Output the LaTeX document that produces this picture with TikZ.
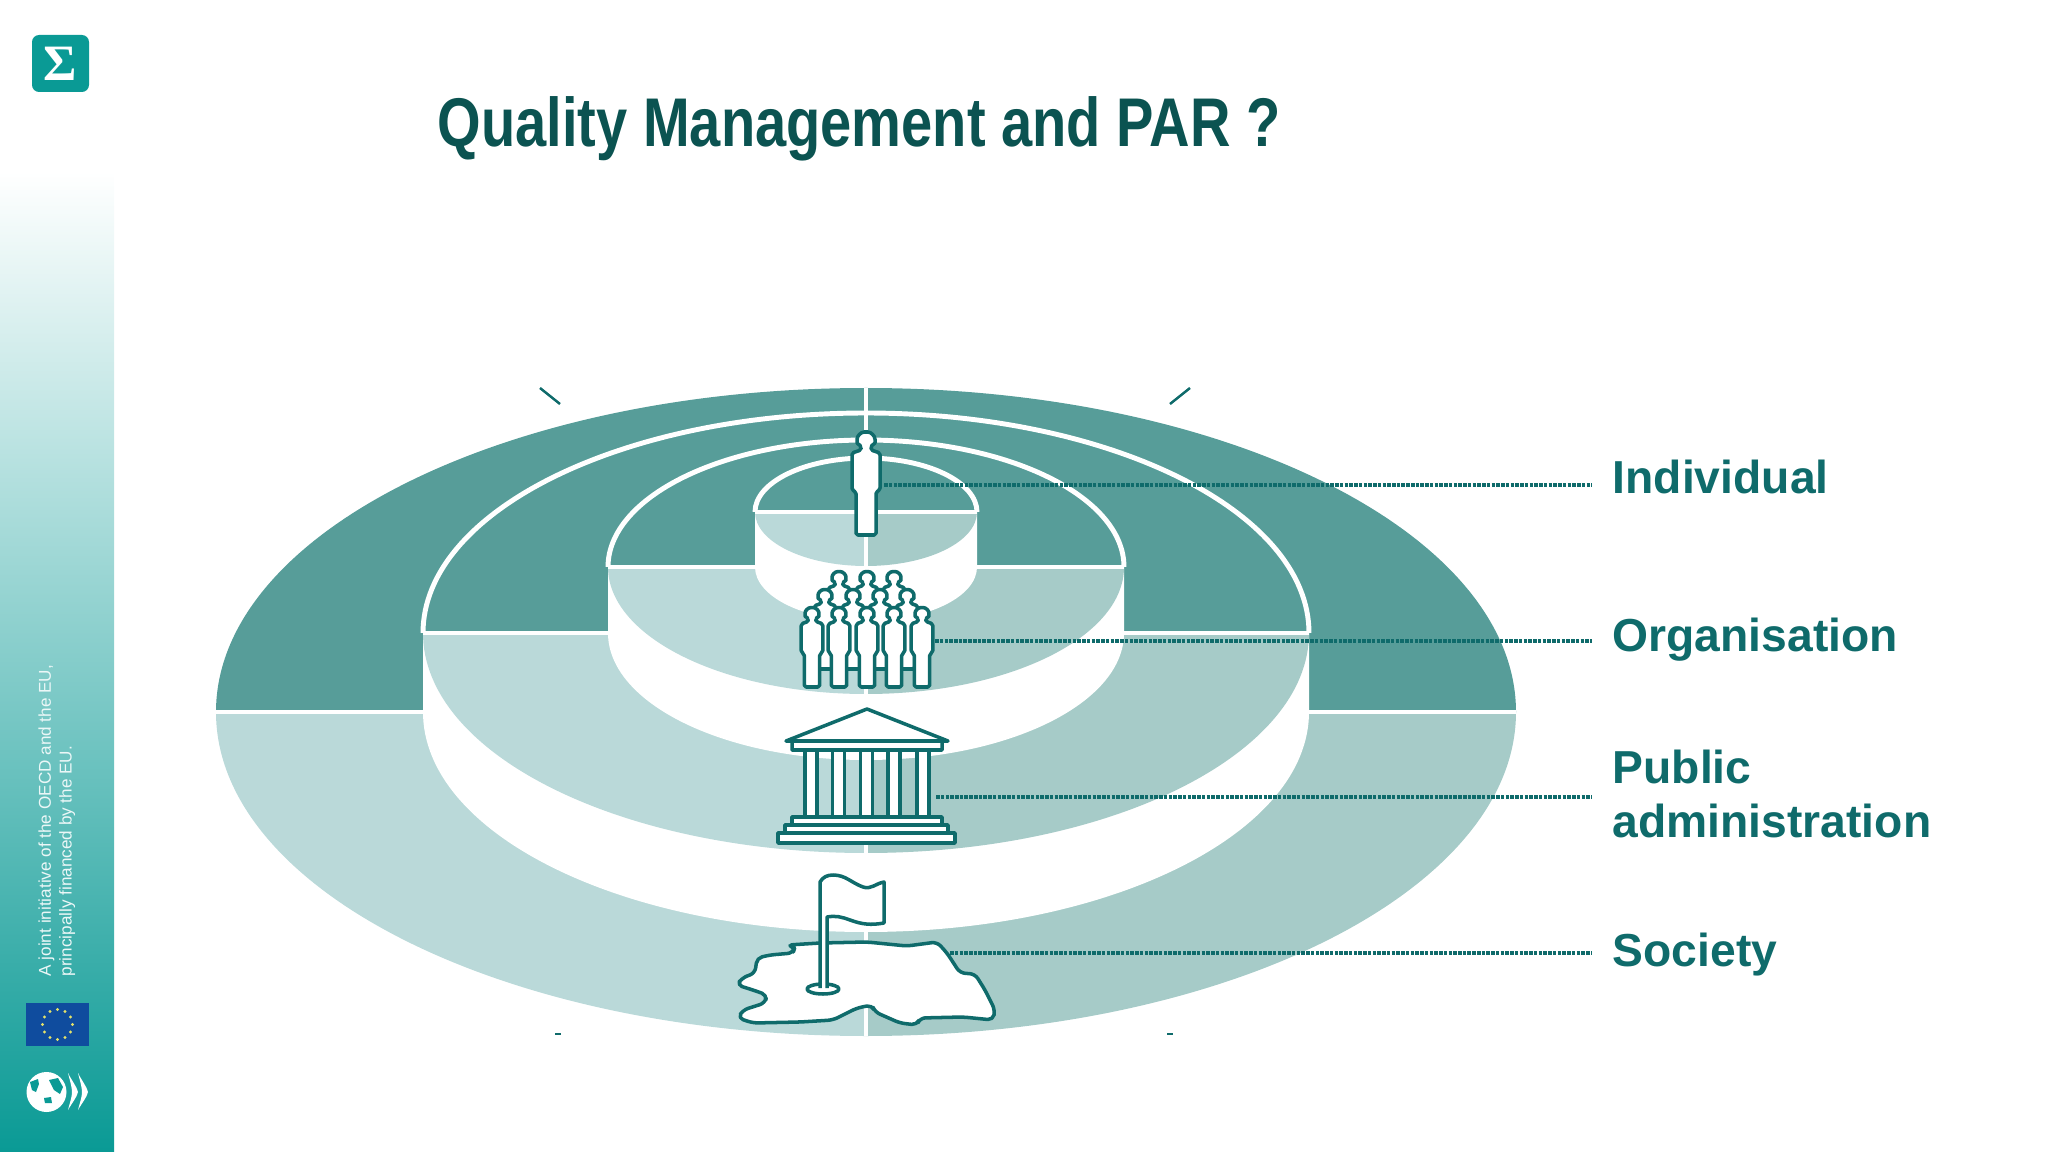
\documentclass[tikz,border=0pt]{standalone}
\usepackage{fontspec}
\setmainfont{Liberation Sans}
\newfontfamily\titlefont{Liberation Sans}[FakeStretch=0.813]
\newfontfamily\sigmafont{Liberation Serif}
\definecolor{sidebarteal}{HTML}{0A9A95}
\definecolor{titleteal}{HTML}{0B5351}
\definecolor{labelteal}{HTML}{0F6B6B}
\definecolor{surfacedark}{HTML}{579D99}
\definecolor{surfaceleft}{HTML}{BAD9D9}
\definecolor{surfaceright}{HTML}{A6CBC8}
\definecolor{eublue}{HTML}{0F4C9E}
\definecolor{eustar}{HTML}{E4E36A}
\tikzset{
    x=0.01cm, y=0.01cm,
    iconline/.style={draw=labelteal, line width=1pt, line join=round},
    leader/.style={draw=labelteal, line width=0.9pt, dash pattern=on 1pt off 0.35pt},
    levellabel/.style={text=labelteal, font=\fontsize{13.15}{15.2}\selectfont\bfseries, inner sep=0pt, align=left},
    tick/.style={draw=labelteal, line width=0.7pt},
    pics/person/.style={code={
        \draw[iconline, fill=white, rounded corners=0.5pt] (-10,0) -- (-10,43) -- (-14,45) -- (-14,82)
            -- (-5,85) -- (-5,88) to[out=120, in=-90] (-9,94) to[out=90, in=180] (0,103) to[out=0, in=90] (9,94)
            to[out=-90, in=60] (5,88) -- (5,85) -- (14,82) -- (14,45) -- (10,43) -- (10,0) -- cycle;
    }}
}
\newcommand{\discpart}[4]{
    \fill[white] (866-#2,-#1) -- ++(0,-#4) arc[start angle=180, end angle=360, x radius=#2, y radius=#3] -- ++(0,#4) -- cycle;
    \fill[surfacedark] (866-#2,-#1) arc[start angle=180, end angle=0, x radius=#2, y radius=#3] -- cycle;
    \fill[surfaceleft] (866-#2,-#1) arc[start angle=180, end angle=270, x radius=#2, y radius=#3] -- (866,-#1) -- cycle;
    \fill[surfaceright] (866+#2,-#1) arc[start angle=0, end angle=-90, x radius=#2, y radius=#3] -- (866,-#1) -- cycle;
    \draw[white, line width=1.4pt] (866-#2,-#1) arc[start angle=180, end angle=0, x radius=#2, y radius=#3];
    \draw[white, line width=1.2pt] (866-#2,-#1) -- (866+#2,-#1);
}
\begin{document}
\begin{tikzpicture}
    \useasboundingbox (0,0) rectangle (2048,-1152);

    \shade[top color=white, bottom color=sidebarteal] (0,-172) rectangle (114,-1152);
    \fill[sidebarteal, rounded corners=2pt] (32,-35) rectangle (89,-92);
    \node[text=white, inner sep=0pt] (sigma) at (60.5,-64) {\sigmafont\bfseries\fontsize{14.5}{15}\selectfont Σ};
    \node[text=white!92!sidebarteal, rotate=90, anchor=south west, inner sep=0pt, align=left,
        font=\fontsize{4.87}{5.95}\selectfont] (initiative) at (76,-977)
        {A joint initiative of the OECD and the EU,\\principally financed by the EU.};
    \fill[eublue] (26,-1003) rectangle (89,-1046);
    \foreach \a in {0,30,...,330}
        \fill[eustar] (57.5,-1024.5) ++(\a:15) circle (1.7);
    \fill[white] (46.5,-1092) circle (20);
    \fill[sidebarteal] (30,-1082) -- (38,-1079) -- (39,-1084) -- (36,-1092) -- (32,-1090) -- cycle;
    \fill[sidebarteal] (49,-1080) -- (58,-1078) -- (63,-1087) -- (60,-1094) -- (54,-1090) -- cycle;
    \fill[sidebarteal] (44,-1098) -- (51,-1097) -- (52,-1103) -- (45,-1103) -- cycle;
    \fill[white] (68,-1073) .. controls (72,-1081) and (77,-1087) .. (78,-1092) .. controls (77,-1097) and (72,-1103) .. (68,-1110)
        .. controls (70,-1102) and (72,-1097) .. (72,-1092) .. controls (72,-1087) and (70,-1081) .. (68,-1073) -- cycle;
    \fill[white] (78,-1073) .. controls (82,-1081) and (87,-1087) .. (88,-1092) .. controls (87,-1097) and (82,-1103) .. (78,-1110)
        .. controls (80,-1102) and (82,-1097) .. (82,-1092) .. controls (82,-1087) and (80,-1081) .. (78,-1073) -- cycle;

    \node[text=titleteal, anchor=base west, inner sep=0pt, font=\titlefont\bfseries\fontsize{19.6}{22}\selectfont] (title) at (437,-147)
        {Quality Management and PAR ?};

    \draw[tick] (540,-388) to (560,-404);
    \draw[tick] (1190,-388) to (1170,-404);
    \draw[tick] (555,-1034) to (561,-1034);
    \draw[tick] (1167,-1034) to (1173,-1034);

    \fill[surfacedark] (216,-712) arc[start angle=180, end angle=0, x radius=650, y radius=324] -- cycle;
    \fill[surfaceleft] (216,-712) arc[start angle=180, end angle=270, x radius=650, y radius=324] -- (866,-712) -- cycle;
    \fill[surfaceright] (1516,-712) arc[start angle=0, end angle=-90, x radius=650, y radius=324] -- (866,-712) -- cycle;
    \draw[white, line width=1.2pt] (216,-712) to (1516,-712);

    \discpart{633}{443}{220}{79}
    \discpart{567}{258}{127}{66}
    \discpart{512}{111}{54}{55}
    \draw[white, line width=1.1pt] (866,-388) to (866,-1036);

    \node[levellabel, anchor=base west] (individual) at (1612,-494) {Individual};
    \node[levellabel, anchor=base west] (organisation) at (1612,-652) {Organisation};
    \node[levellabel, anchor=west] (publicadmin) at (1612,-794) {Public\\administration};
    \node[levellabel, anchor=base west] (society) at (1612,-966) {Society};

    \coordinate (individualicon) at (884,-485);
    \coordinate (individualend) at (1592,-485);
    \coordinate (organisationicon) at (935,-641);
    \coordinate (organisationend) at (1592,-641);
    \coordinate (publicicon) at (936,-797);
    \coordinate (publicend) at (1592,-797);
    \coordinate (societyicon) at (950,-953);
    \coordinate (societyend) at (1592,-953);
    \draw[leader] (individualicon) -- (individualend);
    \draw[leader] (organisationicon) -- (organisationend);
    \draw[leader] (publicicon) -- (publicend);
    \draw[leader] (societyicon) -- (societyend);

    \pic at (866,-535) {person};

    \foreach \px in {839,867,894}
        \pic[scale=.77] at (\px,-651) {person};
    \foreach \px in {825,853,880,907}
        \pic[scale=.77] at (\px,-669) {person};
    \foreach \px in {812,839,867,894,922}
        \pic[scale=.77] at (\px,-687) {person};

    \draw[iconline, fill=white] (867,-709) -- (948,-741) -- (942,-741) -- (942,-750) -- (792,-750) -- (792,-741) -- (786,-741) -- cycle;
    \draw[iconline] (792,-741) -- (942,-741);
    \foreach \cx in {811,838.5,866.5,894,923}
        \draw[iconline, fill=white] (\cx-6,-750) rectangle (\cx+6,-817);
    \draw[iconline, fill=white] (792,-817) rectangle (942,-825);
    \draw[iconline, fill=white] (785,-825) rectangle (948,-833);
    \draw[iconline, fill=white] (778,-833) rectangle (955,-843);

    \draw[iconline, fill=white, rounded corners=1.5pt] (788,-945) -- (820,-943) -- (867,-942) -- (907,-946) -- (937,-942)
        -- (947,-953) -- (960,-973) -- (975,-974) -- (985,-990) -- (995,-1010) -- (993,-1020) -- (963,-1017)
        -- (920,-1018) -- (917,-1025) -- (900,-1023) -- (875,-1012) -- (872,-1005) -- (857,-1008) -- (833,-1020)
        -- (800,-1022) -- (753,-1023) -- (738,-1018) -- (743,-1010) -- (765,-1003) -- (767,-995) -- (753,-990)
        -- (737,-985) -- (742,-978) -- (755,-973) -- (757,-958) -- (770,-955) -- (793,-953) -- (795,-947) -- cycle;
    \draw[iconline, fill=white] (823,-989) ellipse [x radius=16, y radius=5];
    \draw[iconline, fill=white] (820,-988) -- (820,-882) to[out=60, in=180] (833,-875)
        to[out=0, in=160] (863,-887) to[out=-20, in=190] (884,-882) -- (884,-923)
        to[out=190, in=-20] (850,-920) to[out=160, in=10] (827,-917) -- (827,-988);
\end{tikzpicture}
\end{document}
